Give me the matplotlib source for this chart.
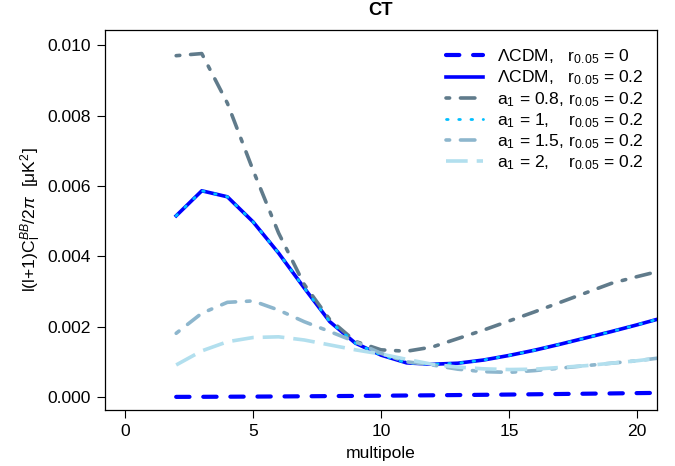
import matplotlib
matplotlib.use("Agg")
import matplotlib.pyplot as plt

plt.rcParams['font.family'] = ['Liberation Sans', 'DejaVu Sans']
plt.rcParams['mathtext.fontset'] = 'custom'
plt.rcParams['mathtext.rm'] = 'Liberation Sans'
plt.rcParams['mathtext.it'] = 'Liberation Sans:italic'
plt.rcParams['mathtext.bf'] = 'Liberation Sans:bold'

multipole = list(range(2, 22))
lcdm_r0 = [0.003, 0.005, 0.008, 0.011, 0.015, 0.020, 0.025, 0.030, 0.036, 0.042,
           0.048, 0.055, 0.062, 0.069, 0.077, 0.085, 0.093, 0.101, 0.110, 0.118]
lcdm_r02 = [5.15, 5.86, 5.69, 4.98, 4.09, 3.10, 2.14, 1.53, 1.19, 0.97,
            0.93, 0.96, 1.05, 1.18, 1.33, 1.50, 1.68, 1.86, 2.05, 2.25]
a1_08 = [9.70, 9.76, 8.35, 6.45, 4.66, 3.20, 2.20, 1.58, 1.34, 1.30,
         1.42, 1.66, 1.90, 2.16, 2.42, 2.69, 2.96, 3.23, 3.42, 3.60]
a1_1 = [5.15, 5.86, 5.69, 4.98, 4.09, 3.10, 2.14, 1.53, 1.19, 0.97,
        0.93, 0.96, 1.05, 1.18, 1.33, 1.50, 1.68, 1.86, 2.05, 2.25]
a1_15 = [1.81, 2.38, 2.69, 2.73, 2.47, 2.14, 1.86, 1.57, 1.24, 1.00,
         0.91, 0.79, 0.72, 0.70, 0.75, 0.82, 0.89, 0.96, 1.03, 1.12]
a1_2 = [0.91, 1.31, 1.57, 1.69, 1.71, 1.62, 1.48, 1.34, 1.22, 1.07,
        0.93, 0.85, 0.80, 0.78, 0.79, 0.84, 0.89, 0.96, 1.03, 1.12]

labels = [
    r'$\Lambda$CDM,   r$_{0.05}$ = 0',
    r'$\Lambda$CDM,   r$_{0.05}$ = 0.2',
    r'a$_1$ = 0.8, r$_{0.05}$ = 0.2',
    r'a$_1$ = 1,    r$_{0.05}$ = 0.2',
    r'a$_1$ = 1.5, r$_{0.05}$ = 0.2',
    r'a$_1$ = 2,    r$_{0.05}$ = 0.2',
]
xticks = [0, 5, 10, 15, 20]
yticks = [0.000, 0.002, 0.004, 0.006, 0.008, 0.010]

fs = 12.6
fig = plt.figure(figsize=(6.75, 4.66), dpi=100)
ax = fig.add_axes([105/675, 1-410/466, (657-105)/675, (410-30)/466])

s = 1e-3
ax.plot(multipole, [v*s for v in lcdm_r0], color='#0000FF', lw=3.0,
        linestyle=(0, (3.2, 3.3)), label=labels[0], dash_capstyle='round')
ax.plot(multipole, [v*s for v in lcdm_r02], color='#0000FF', lw=2.6,
        linestyle='-', label=labels[1])
ax.plot(multipole, [v*s for v in a1_08], color='#607B8B', lw=2.6,
        linestyle=(0, (1, 3, 4, 3)), label=labels[2], dash_capstyle='round')
ax.plot(multipole, [v*s for v in a1_1], color='#00BFFF', lw=2.0,
        linestyle=(0, (0.6, 3.8)), label=labels[3], dash_capstyle='round')
ax.plot(multipole, [v*s for v in a1_15], color='#8DB6CD', lw=2.6,
        linestyle=(0, (1, 3, 4, 3)), label=labels[4], dash_capstyle='round')
ax.plot(multipole, [v*s for v in a1_2], color='#B2DFEE', lw=2.6,
        linestyle=(0, (6, 2.5)), label=labels[5])

ax.set_xlim(-0.78, 20.78)
ax.set_ylim(-0.00037, 0.01043)
ax.set_xticks(xticks)
ax.set_xticklabels([str(t) for t in xticks])
ax.set_yticks(yticks)
ax.set_yticklabels(['%.3f' % t for t in yticks])
ax.tick_params(direction='out', length=6, width=0.8, labelsize=fs, pad=4)

ax.set_title('CT', fontsize=13.2, fontweight='bold', pad=11)
ax.set_xlabel('multipole', fontsize=fs, labelpad=5)
ax.set_ylabel(r'l(l+1)C$_\mathrm{l}^{BB}$/2$\pi$  [$\mathrm{\mu}$K$^2$]', fontsize=fs, labelpad=3)

for sp in ax.spines.values():
    sp.set_linewidth(0.9)

leg = ax.legend(loc='upper right', frameon=False, fontsize=fs,
                handlelength=2.1, handletextpad=0.8, labelspacing=0.14,
                borderaxespad=0.6, bbox_to_anchor=(1.008, 1.0))

fig.savefig('out.png', dpi=100)
